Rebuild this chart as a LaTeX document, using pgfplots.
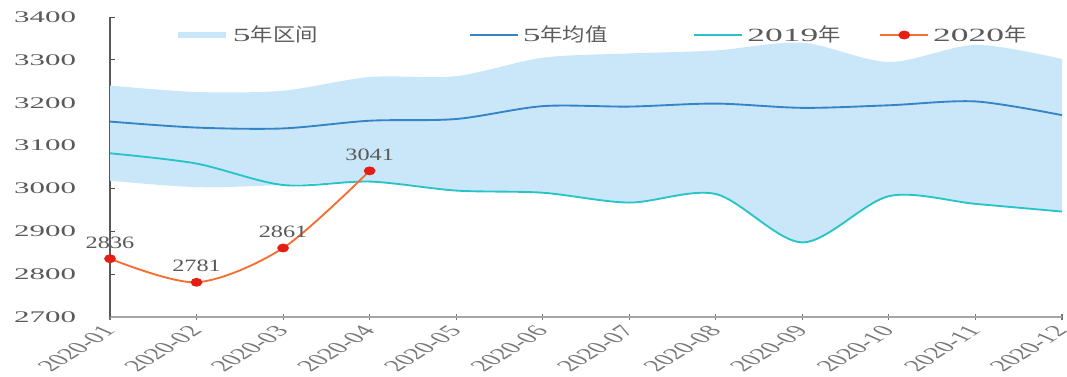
\documentclass[border=0pt]{standalone}
\usepackage{pgfplots}
\pgfplotsset{compat=1.18}
\usepgfplotslibrary{fillbetween}
\usepackage{fontspec}
\setmainfont{Liberation Serif}
\newfontfamily\tickfont{Liberation Serif}[FakeStretch=1.9]
\newfontfamily\labfont{Liberation Serif}[FakeStretch=1.4]
\newfontfamily\cjk{Noto Sans CJK SC}[FakeStretch=1.2]

\definecolor{bandblue}{RGB}{202,231,250}
\definecolor{meanblue}{RGB}{52,132,200}
\definecolor{teal19}{RGB}{40,196,200}
\definecolor{orange20}{RGB}{245,110,50}
\definecolor{dotred}{RGB}{228,30,20}
\definecolor{txtgray}{RGB}{90,90,90}
\definecolor{lightgray}{RGB}{120,120,120}

\newcommand{\legfont}{\fontsize{14}{16}\selectfont}
\newcommand{\legtext}[3]{\makebox[#1][l]{\legfont\color{txtgray}{\tickfont #2}{\cjk #3}}}

\begin{document}
\begin{tikzpicture}
\begin{axis}[
  scale only axis,
  width=714pt, height=225pt,
  at={(82.5pt,44.25pt)}, anchor=south west,
  xmin=1, xmax=12, ymin=2700, ymax=3400,
  axis x line*=bottom, axis y line*=left,
  x axis line style={draw=black!35, line width=1.1pt},
  y axis line style={draw=black!65, line width=0.9pt},
  xtick={1,...,12},
  xticklabels={2020-01,2020-02,2020-03,2020-04,2020-05,2020-06,2020-07,2020-08,2020-09,2020-10,2020-11,2020-12},
  ytick={2700,2800,...,3400},
  /pgf/number format/assume math mode=true,
  /pgf/number format/1000 sep={},
  yticklabel style={font=\tickfont\fontsize{12.2}{14}\selectfont, text=txtgray, xshift=-22pt},
  % month labels: rotated, then widened like the rest of the text
  xticklabel style={font=\fontsize{12}{14}\selectfont, text=lightgray,
    xscale=1.9, rotate=50, anchor=east, inner sep=0.5pt},
  xticklabel shift=6pt,
  y tick style={draw=black!70, line width=0.6pt},
  x tick style={draw=black!55, line width=0.8pt},
  ytick align=inside, xtick align=center,
  major tick length=4pt,
  clip=false,
  legend columns=4,
  legend style={draw=none, fill=none, inner sep=0pt,
    at={(axis description cs:0,1)}, anchor=west,
    xshift=48pt, yshift=-13.5pt,
    nodes={inner sep=0pt},
    /tikz/every odd column/.style={column sep=3pt},
    /tikz/every even column/.style={column sep=0pt}},
  legend image code/.code={%
    \draw[mark repeat=2, mark phase=2, #1] plot coordinates {(0pt,0pt) (18pt,0pt) (36pt,0pt)};},
]
% five-year range band
\addplot[name path=up, draw=none, smooth, forget plot] coordinates {
  (1,3240) (2,3225) (3,3228) (4,3260) (5,3262) (6,3305)
  (7,3315) (8,3322) (9,3340) (10,3295) (11,3335) (12,3302)};
\addplot[name path=lo, draw=none, smooth, forget plot] coordinates {
  (1,3018) (2,3003) (3,3008) (4,3016) (5,2995) (6,2990)
  (7,2967) (8,2987) (9,2874) (10,2982) (11,2964) (12,2946)};
\addplot[fill=bandblue, draw=none, forget plot] fill between[of=up and lo];

% five-year mean
\addplot[meanblue, line width=1.4pt, smooth, forget plot] coordinates {
  (1,3156) (2,3142) (3,3140) (4,3158) (5,3162) (6,3192)
  (7,3191) (8,3198) (9,3188) (10,3194) (11,3203) (12,3171)};

% 2019
\addplot[teal19, line width=1.4pt, smooth, forget plot] coordinates {
  (1,3082) (2,3058) (3,3008) (4,3016) (5,2995) (6,2990)
  (7,2967) (8,2987) (9,2874) (10,2982) (11,2964) (12,2946)};

% 2020
\addplot[orange20, line width=1.4pt, smooth,
  mark=*, mark size=2.6pt, mark options={fill=dotred, draw=dotred, xscale=1.4},
  point meta=explicit symbolic,
  nodes near coords, every node near coord/.append style={
    font=\labfont\fontsize{13}{15}\selectfont, text=txtgray,
    anchor=south, inner sep=0pt, yshift=7pt},
  forget plot] coordinates {
  (1,2836) [2836] (2,2781) [2781] (3,2861) [2861] (4,3041) [3041]};

\addlegendimage{bandblue, line width=5pt}
\addlegendentry{\legtext{177pt}{5}{年区间}}
\addlegendimage{meanblue, line width=1.4pt}
\addlegendentry{\legtext{128pt}{5}{年均值}}
\addlegendimage{teal19, line width=1.4pt}
\addlegendentry{\legtext{99pt}{2019}{年}}
\addlegendimage{orange20, line width=1.4pt, mark=*, mark size=2.6pt, mark options={fill=dotred, draw=dotred, xscale=1.4}}
\addlegendentry{\legtext{80pt}{2020}{年}}
\end{axis}
\pgfresetboundingbox
\path[use as bounding box] (0,0) rectangle (800.25pt,282pt);
\end{tikzpicture}
\end{document}
